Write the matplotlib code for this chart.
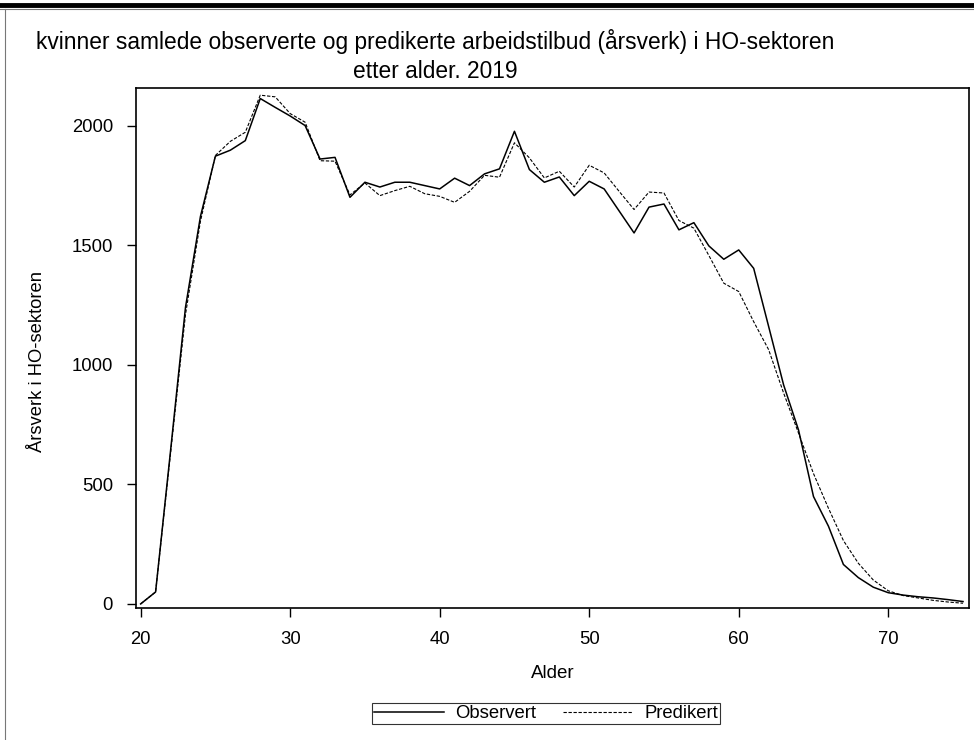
import matplotlib
matplotlib.use("Agg")
import matplotlib.pyplot as plt
from matplotlib.lines import Line2D

plt.rcParams['font.family'] = ['Liberation Sans', 'DejaVu Sans']

# alder 20-75
alder = list(range(20, 76))

observert = [0, 50, 640, 1240, 1620, 1872, 1897, 1937, 2113, 2076,
             2040, 2000, 1860, 1867, 1700, 1763, 1743, 1763, 1763, 1749,
             1735, 1780, 1749, 1798, 1819, 1976, 1816, 1763, 1785, 1707,
             1767, 1735, 1643, 1551, 1659, 1672, 1564, 1594, 1497, 1441,
             1480, 1403, 1160, 916, 727, 449, 325, 165, 110, 70,
             47, 37, 30, 25, 18, 10]

predikert = [0, 50, 630, 1210, 1600, 1875, 1934, 1972, 2127, 2120,
             2050, 2014, 1853, 1851, 1710, 1760, 1707, 1728, 1746, 1715,
             1704, 1679, 1725, 1792, 1784, 1928, 1865, 1781, 1809, 1743,
             1834, 1802, 1725, 1649, 1722, 1718, 1603, 1571, 1457, 1341,
             1306, 1180, 1063, 882, 714, 545, 400, 265, 170, 100,
             55, 35, 25, 15, 8, 3]

fig = plt.figure(figsize=(9.74, 7.40), dpi=100)
W, H = 974, 740
ax = fig.add_axes([136 / W, 1 - 608 / H, (969 - 136) / W, (608 - 88) / H])

ax.plot(alder, observert, color='black', lw=1.1, label='Observert')
ax.plot(alder, predikert, color='black', lw=0.8, dashes=(3, 1.5), label='Predikert')

ax.set_xlim(19.69, 75.4)
ax.set_ylim(-17, 2157)
ax.set_xticks([20, 30, 40, 50, 60, 70])
ax.set_yticks([0, 500, 1000, 1500, 2000])
ax.tick_params(direction='out', length=6.5, width=1, labelsize=13.3)
ax.tick_params(axis='x', pad=10)
ax.tick_params(axis='y', pad=10)
for s in ax.spines.values():
    s.set_linewidth(1.2)

ax.set_xlabel('Alder', fontsize=13.5)
ax.xaxis.set_label_coords(0.5, (608 - 673) / 520)
ax.xaxis.label.set_verticalalignment('center')
ax.set_ylabel('Årsverk i HO-sektoren', fontsize=13.2)
ax.yaxis.set_label_coords((38 - 136) / 833, (608 - 362) / 520)
ax.yaxis.label.set_verticalalignment('center')

fig.text(435 / W, 1 - 42 / H, 'kvinner samlede observerte og predikerte arbeidstilbud (årsverk) i HO-sektoren',
         ha='center', va='center', fontsize=16.4)
fig.text(435 / W, 1 - 72 / H, 'etter alder. 2019', ha='center', va='center', fontsize=16.4)

leg = fig.legend(loc='center', bbox_to_anchor=(546 / W, 1 - 713.5 / H), ncol=2,
                 frameon=True, fancybox=False, edgecolor='black', fontsize=13.3,
                 handlelength=3.8, handletextpad=0.6, columnspacing=1.45,
                 borderpad=0.12, borderaxespad=0)
leg.get_frame().set_linewidth(0.8)

# ramme rundt figuren
fig.add_artist(Line2D([0, 1], [1 - 5 / H, 1 - 5 / H], color='black', lw=3.5, transform=fig.transFigure))
fig.add_artist(Line2D([0, 1], [1 - 9 / H, 1 - 9 / H], color='#777777', lw=0.8, transform=fig.transFigure))
fig.add_artist(Line2D([5 / W, 5 / W], [0, 1 - 9 / H], color='#777777', lw=0.8, transform=fig.transFigure))

fig.savefig('out.png', dpi=100)
